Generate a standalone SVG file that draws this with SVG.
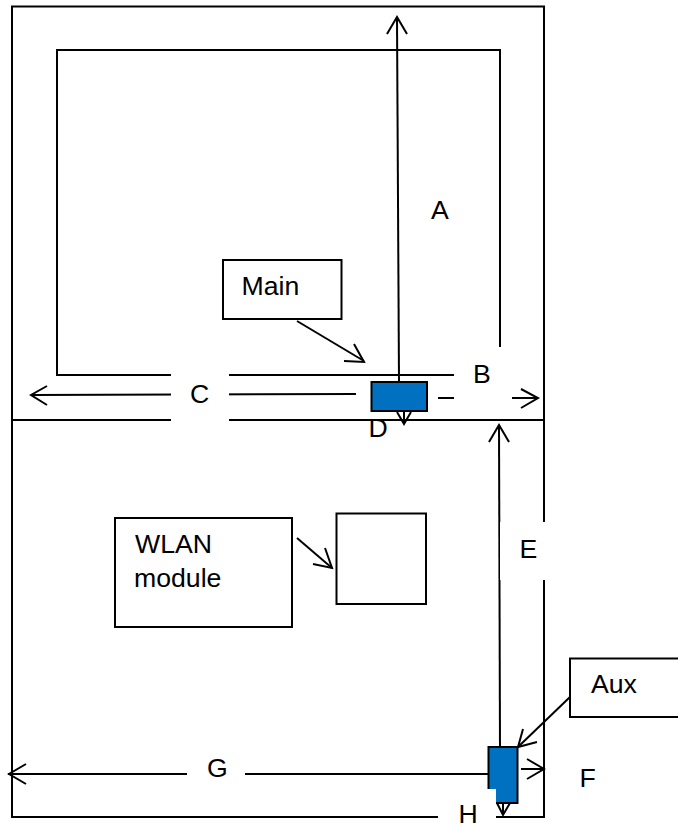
<svg xmlns="http://www.w3.org/2000/svg" width="678" height="825" viewBox="0 0 678 825">
<style>
.l{fill:none;stroke:#000;stroke-width:2}
.a{fill:none;stroke:#000;stroke-width:2;stroke-linejoin:miter}
.b{fill:#fff;stroke:#000;stroke-width:2}
.u{fill:#0070c0;stroke:#000;stroke-width:2}
.w{fill:#fff;stroke:none}
text{font-family:"Liberation Sans",Arial,sans-serif;font-size:26.670px;fill:#000}
</style>
<rect width="678" height="825" fill="#fff"/>
<g id="board"><rect class="l" x="12" y="6.500" width="532" height="810.500"/>
<path class="l" d="M12 420H544"/>
<path class="l" d="M500 347V50H57V375H454"/></g>
<g id="connectors">
<path class="l" d="M356 394 L32 395"/><path class="a" d="M47 386 L31 395 L47 405"/>
<path class="l" d="M438 398H454M512 398H537"/><path class="a" d="M521 389 L538 398 L521 408"/>
<path class="l" d="M399 382 L397 18"/><path class="a" d="M387 34 L397 17 L407 34"/>
<path class="l" d="M404 411V424"/><path class="a" d="M397 412 L404 424 L411 412"/>
<path class="l" d="M500 747 L499 426"/><path class="a" d="M489 442 L499 425 L509 442"/>
<path class="l" d="M8 774H488"/><path class="a" d="M26 764 L9 774 L26 784"/>
<path class="l" d="M521 769H543"/><path class="a" d="M527 759 L544 769 L527 779"/>
<path class="l" d="M503 803V815"/><path class="a" d="M497 803 L503 815 L510 803"/>
<path class="l" d="M297 321 L364 361"/><path class="a" d="M354 344 L364 362 L344 361"/>
<path class="l" d="M297 538 L332 568"/><path class="a" d="M325 548 L332 568 L313 564"/>
<path class="l" d="M570 697 L518 747"/><path class="a" d="M523 729 L518 747 L537 742"/>
</g>
<g id="label-masks">
<rect class="w" x="171" y="372" width="58" height="52"/>
<rect class="w" x="187" y="756" width="58" height="30"/>
<rect class="w" x="438" y="789" width="58" height="36"/>
<rect class="w" x="500" y="522" width="47" height="58"/>
</g>
<g id="main"><rect class="b" x="223" y="260" width="118.500" height="59"/><text x="241.500" y="295">Main</text></g>
<g id="wlan-module"><rect class="b" x="115" y="518" width="177" height="109"/><text x="135" y="553">WLAN</text><text x="134" y="587">module</text></g>
<g id="wlan-square"><rect class="b" x="336.500" y="513.500" width="89.500" height="90.500"/></g>
<g id="aux"><rect class="b" x="570" y="658.500" width="120" height="58.500"/><text x="591" y="693">Aux</text></g>
<g id="main-antenna"><rect class="u" x="371.500" y="382" width="55.500" height="29"/></g>
<g id="aux-antenna"><rect class="u" x="488.500" y="747" width="29" height="56"/><rect class="w" x="486" y="789" width="10" height="16"/></g>
<g id="labels">
<text x="431" y="219">A</text><text x="473" y="383">B</text><text x="190" y="403">C</text><text x="368.500" y="437">D</text><text x="519.500" y="558">E</text><text x="579.500" y="787">F</text><text x="207" y="777">G</text><text x="458.500" y="823">H</text>
</g>
</svg>
